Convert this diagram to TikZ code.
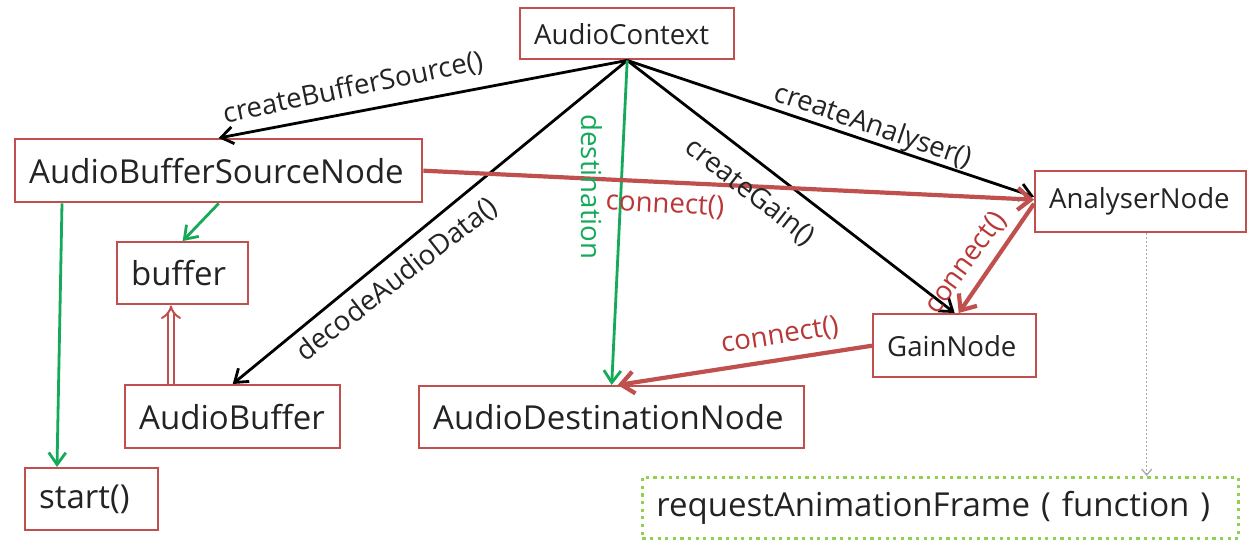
\documentclass[tikz,border=0pt]{standalone}
\usepackage{fontspec}
\setmainfont{Open Sans}
\usetikzlibrary{arrows.meta,calc}
\definecolor{boxred}{RGB}{192,80,77}
\definecolor{labred}{RGB}{185,55,55}
\definecolor{grn}{RGB}{20,170,90}
\definecolor{lgrn}{RGB}{146,208,80}
\definecolor{txt}{RGB}{35,35,35}
\begin{document}
\begin{tikzpicture}[x=0.5pt,y=-0.5pt,
  box/.style={draw=boxred, line width=1.2pt, anchor=north west, inner xsep=7pt, inner ysep=0pt, align=left, text=txt},
  big/.style={font=\fontsize{16.5}{18}\selectfont},
  small/.style={font=\fontsize{13.8}{16}\selectfont},
  lab/.style={font=\fontsize{13.8}{16}\selectfont, inner sep=0pt, text=txt},
  redlab/.style={lab, text=labred},
  grnlab/.style={lab, text=grn},
  blk/.style={draw=black, line width=1.4pt, -{Straight Barb[length=6pt,width=8.5pt]}},
  redarr/.style={draw=boxred, line width=2.1pt, -{Straight Barb[length=6.5pt,width=11pt]}},
  grnarr/.style={draw=grn, line width=1.4pt, -{Straight Barb[length=6pt,width=8.5pt]}},
  dblarr/.style={draw=boxred, double=white, line width=1pt, double distance=2.4pt, -{Implies}},
  dotarr/.style={draw=gray!70, line width=0.6pt, dash pattern=on 1pt off 1pt, -{Straight Barb[length=3pt,width=5pt]}},
  rafbox/.style={draw=lgrn, line width=1.3pt, dash pattern=on 1.6pt off 2.2pt, anchor=north west, inner xsep=7pt, inner ysep=0pt, align=left, text=txt}
]
\fill[white] (0,0) rectangle (1249,546);
\useasboundingbox (0,0) rectangle (1249,546);

% boxes
\node[box, small, text width=93pt, minimum height=25.5pt] (ctx) at (519,7) {AudioContext};
\node[box, big, text width=189.5pt, minimum height=31.5pt] (absn) at (14,138) {AudioBufferSourceNode};
\node[box, big, text width=51.5pt, minimum height=31pt] (buf) at (116,241) {buffer};
\node[box, big, text width=93.5pt, minimum height=31.5pt] (ab) at (124,384) {AudioBuffer};
\node[box, big, text width=52.5pt, minimum height=31pt] (start) at (24,467) {start()};
\node[box, big, text width=178.5pt, minimum height=31pt] (dest) at (418,385) {AudioDestinationNode};
\node[box, small, text width=67.5pt, minimum height=31.5pt] (gain) at (872,313) {GainNode};
\node[box, small, text width=91.5pt, minimum height=30.5pt] (an) at (1034,170) {AnalyserNode};
\node[rafbox, big, text width=284pt, minimum height=30.5pt] (raf) at (641,476) {requestAnimationFrame ( function )};

% black arrows from AudioContext
\draw[blk] (ctx.south) -- (absn.north);
\draw[blk] (ctx.south) -- (ab.north);
\draw[blk] (ctx.south) -- (gain.north);
\draw[blk] (ctx.south) -- ([yshift=2.5pt]an.west);
\draw[grnarr] (ctx.south) -- (dest.north);

% red connects
\draw[redarr] (absn.east) -- ([yshift=1pt]an.west);
\draw[redarr] ([yshift=-1pt]an.west) -- ([xshift=2pt]gain.north);
\draw[redarr] (gain.west) -- ([xshift=3pt]dest.north);

% green
\draw[grnarr] (absn.south) -- (buf.north);
\draw[grnarr] ([xshift=24pt]absn.south west) -- ([xshift=16.5pt]start.north west);

% double
\draw[dblarr] ([xshift=23.5pt]ab.north west) -- ([xshift=23.5pt]ab.north west |- buf.south);

% dotted
\draw[dotarr] ([xshift=3pt]an.south) -- ([xshift=3pt]an.south |- raf.north);

% labels
\node[lab, rotate=11.7] (lcbs) at (353,88) {createBufferSource()};
\node[lab, rotate=38] (ldad) at (397,280) {decodeAudioData()};
\node[grnlab, rotate=-90] (ldst) at (592,187) {destination};
\node[lab, rotate=-38] (lcg) at (750,192) {createGain()};
\node[lab, rotate=-19] (lca) at (873,127) {createAnalyser()};
\node[redlab, rotate=-3] (lc1) at (665,205) {connect()};
\node[redlab, rotate=54] (lc2) at (966,263) {connect()};
\node[redlab, rotate=9] (lc3) at (780,336) {connect()};
\end{tikzpicture}
\end{document}
